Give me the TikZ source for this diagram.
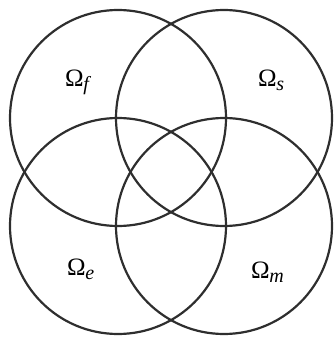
\documentclass[tikz,border=0pt]{standalone}
\usepackage{fontspec}
\setmainfont{Liberation Serif}
\newcommand{\omsub}[1]{Ω\kern-0.5pt\raisebox{-4pt}{\fontsize{20}{24}\selectfont\itshape #1}}
\begin{document}
\begin{tikzpicture}[x=1pt,y=-1pt,
  ring/.style={draw=black!82,line width=2.2pt},
  lab/.style={anchor=base west,inner sep=0pt,font=\fontsize{25}{30}\selectfont}]
\useasboundingbox (0,0) rectangle (336,337);
\node[ring,circle,minimum size=216pt,inner sep=0pt] (tl) at (118,118) {};
\node[ring,circle,minimum size=216pt,inner sep=0pt] (tr) at (224,118) {};
\node[ring,circle,minimum size=216pt,inner sep=0pt] (bl) at (118,226) {};
\node[ring,circle,minimum size=216pt,inner sep=0pt] (br) at (224,226) {};
\node[lab] (lf) at (65,86) {\omsub{f}};
\node[lab] (ls) at (258,86) {\omsub{s}};
\node[lab] (le) at (67,275) {\omsub{e}};
\node[lab] (lm) at (251,278) {\omsub{m}};
\end{tikzpicture}
\end{document}
